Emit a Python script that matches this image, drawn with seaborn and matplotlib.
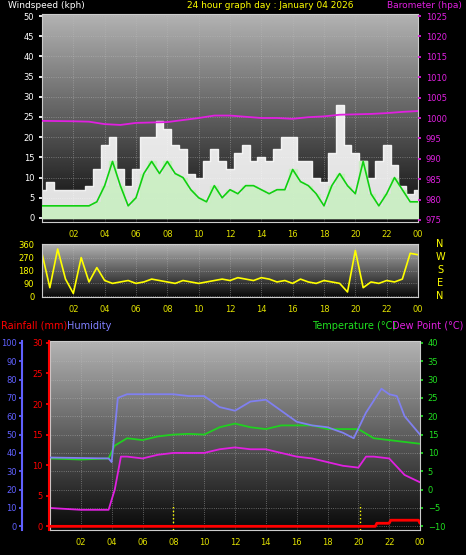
import numpy as np
import pandas as pd
import matplotlib
matplotlib.use('Agg')
import matplotlib.pyplot as plt
import seaborn as sns

sns.set_theme(style='dark')
plt.rcParams['font.family'] = ['DejaVu Sans']

# wind (half-hour readings, kph)
wind_hours = np.arange(0, 24.5, 0.5)
gust = [7, 9, 7, 7, 7, 7, 8, 12, 18, 20, 12, 8, 12, 20, 20, 24, 22, 18, 17, 11,
        10, 14, 17, 14, 12, 16, 18, 14, 15, 14, 17, 20, 20, 14, 14, 10, 9, 16,
        28, 18, 16, 14, 10, 14, 18, 13, 8, 6, 7]
avg = [3, 3, 3, 3, 3, 3, 3, 4, 8, 14, 8, 3, 5, 11, 14, 11, 14, 11, 10, 7,
       5, 4, 8, 5, 7, 6, 8, 8, 7, 6, 7, 7, 12, 9, 8, 6, 3, 8,
       11, 8, 6, 14, 6, 3, 6, 10, 7, 4, 4]
baro_hours = [0, 2, 3, 4, 5, 6, 8, 10, 11, 12, 14, 15, 16, 17, 18, 19, 20, 21, 22, 23, 24]
baro = [999.3, 999.2, 999.1, 998.5, 998.3, 998.8, 999, 1000, 1000.6, 1000.6, 1000,
        1000, 999.8, 1000.2, 1000.4, 1000.8, 1000.9, 1001, 1001.2, 1001.5, 1001.7]
wdir = [300, 60, 330, 120, 20, 270, 100, 200, 110, 90, 100, 110, 90, 100, 120, 110,
        100, 90, 110, 100, 90, 100, 110, 120, 110, 130, 120, 110, 130, 120, 100, 110,
        90, 120, 100, 90, 110, 100, 90, 30, 320, 60, 100, 90, 110, 100, 120, 300, 290]

# temperature panel
t_hours = [0, 2, 3.8, 4.2, 5, 6, 7, 8, 9, 10, 11, 12, 13, 14, 15, 16, 17, 18, 19, 20, 21, 22, 23, 24]
temp = [8.5, 8.2, 8.5, 12, 14, 13.5, 14.5, 15, 15.2, 15, 17, 18, 17, 16.5, 17.5, 17.5,
        17.5, 16.5, 16.5, 16.5, 14, 13.5, 13, 12.5]
d_hours = [0, 2, 3.8, 4.2, 4.6, 5, 6, 7, 8, 10, 11, 12, 13, 14, 15, 16, 17, 18, 19, 20, 20.5, 21, 22, 23, 24]
dew = [-5, -5.5, -5.5, 0, 9, 9, 8.5, 9.5, 10, 10, 11, 11.5, 11, 11, 10, 9, 8.5, 7.5,
       6.5, 6, 9, 9, 8.5, 4, 2]
h_hours = [0, 3.8, 4, 4.4, 5, 6, 8, 9, 10, 11, 12, 13, 14, 15, 16, 17, 18, 19, 19.7,
           20.5, 21.5, 22, 22.5, 23, 24]
hum = [37.5, 37, 35, 70, 72, 72, 72, 71, 71, 65, 63, 68, 69, 63, 57, 55, 54, 51, 48,
       62, 75, 72, 71, 60, 50]
r_hours = [0, 21.1, 21.2, 22, 22.1, 23.9, 24]
rain = [0, 0, 0.5, 0.5, 1, 1, 0.5]

hour_ticks = list(range(2, 25, 2))
hour_labels = ['%02d' % (h % 24) for h in hour_ticks]

fig = plt.figure(figsize=(4.66, 5.55), dpi=100, facecolor='black')
W, H = 466, 555


def ax_at(x0, y0, x1, y1):
    return fig.add_axes([x0 / W, 1 - y1 / H, (x1 - x0) / W, (y1 - y0) / H])


def style(ax, ylim, yticks, color):
    grad = np.linspace(1, 0, 256).reshape(-1, 1)
    ax.imshow(grad, cmap='gray', vmin=-0.05, vmax=1.45, aspect='auto',
              extent=[0, 24, ylim[0], ylim[1]], zorder=0)
    ax.set_xlim(0, 24)
    ax.set_ylim(*ylim)
    ax.set_yticks(yticks)
    ax.set_xticks(hour_ticks)
    ax.set_xticklabels(hour_labels)
    ax.grid(True, color='#bbbbbb', linestyle=':', linewidth=0.6, alpha=0.6)
    ax.tick_params(axis='x', colors='#e0e000', labelsize=6, length=2)
    ax.tick_params(axis='y', colors=color, labelsize=6, length=2)
    for s in ax.spines.values():
        s.set_color('#cccccc')
        s.set_linewidth(0.8)


def side_axis(base, ylim, ticks, color, offset):
    a = base.twinx()
    a.yaxis.tick_left()
    a.set_ylim(*ylim)
    a.set_yticks(ticks)
    a.tick_params(axis='y', colors=color, labelsize=6, length=2, pad=2)
    a.spines['left'].set_position(('outward', offset))
    a.spines['left'].set_color(color)
    a.spines['left'].set_linewidth(1.5)
    for k in ['right', 'top', 'bottom']:
        a.spines[k].set_visible(False)
    a.grid(False)
    a.set_xlim(0, 24)
    return a


# windspeed
ax1 = ax_at(42, 14, 418, 222)
style(ax1, (-1, 50.5), range(0, 51, 5), 'white')
ax1.fill_between(wind_hours, gust, step='mid', color='white', alpha=0.88, zorder=2)
ax1.fill_between(wind_hours, avg, step='mid', color='#c8f0c0', alpha=0.85, zorder=3)
sns.lineplot(x=wind_hours, y=avg, ax=ax1, color='#10d010', linewidth=1.2, zorder=4)
ax1b = ax1.twinx()
sns.lineplot(x=baro_hours, y=baro, ax=ax1b, color='#e020e0', linewidth=1.3)
ax1b.set_ylim(974.5, 1025.5)
ax1b.set_yticks(range(975, 1026, 5))
ax1b.tick_params(axis='y', colors='#e020e0', labelsize=6, length=2)
ax1b.grid(False)
ax1b.set_xlim(0, 24)
for s in ax1b.spines.values():
    s.set_visible(False)
fig.text(8 / W, 1 - 5 / H, 'Windspeed (kph)', color='white', fontsize=6.5, va='center')
fig.text(270 / W, 1 - 5 / H, '24 hour graph day : January 04 2026', color='yellow',
         fontsize=6.5, va='center', ha='center')
fig.text(462 / W, 1 - 5 / H, 'Barometer (hpa)', color='#e020e0', fontsize=6.5,
         va='center', ha='right')

# wind direction
ax2 = ax_at(42, 244, 418, 297)
style(ax2, (-5, 365), range(0, 361, 90), 'yellow')
sns.lineplot(x=wind_hours, y=wdir, ax=ax2, color='yellow', linewidth=1.2)
for lab, yy in zip(['N', 'W', 'S', 'E', 'N'], [244, 257, 270, 283, 296]):
    fig.text(440 / W, 1 - yy / H, lab, color='yellow', fontsize=7, ha='center', va='center')

# temperature / humidity / rain
ax3 = ax_at(50, 341, 420, 530)
style(ax3, (-11, 40.5), range(-10, 41, 5), '#20e020')
sns.lineplot(x=t_hours, y=temp, ax=ax3, color='#20d020', linewidth=1.3)
sns.lineplot(x=d_hours, y=dew, ax=ax3, color='#e020e0', linewidth=1.3)
ax3.axvline(8, ymax=0.14, color='yellow', linestyle=':', linewidth=1)
ax3.axvline(20.1, ymax=0.14, color='yellow', linestyle=':', linewidth=1)

ax_r = side_axis(ax3, (-0.6, 30.3), range(0, 31, 5), 'red', 1)
sns.lineplot(x=r_hours, y=rain, ax=ax_r, color='red', linewidth=2)
ax_h = side_axis(ax3, (-2, 101), range(0, 101, 10), '#6060ff', 20)
sns.lineplot(x=h_hours, y=hum, ax=ax_h, color='#8080f0', linewidth=1.3)
ax3.yaxis.tick_right()
ax3.tick_params(axis='y', colors='#20e020', labelsize=6, length=2)

fig.text(1 / W, 1 - 326 / H, 'Rainfall (mm)', color='red', fontsize=7, va='center')
fig.text(67 / W, 1 - 326 / H, 'Humidity', color='#8080ff', fontsize=7, va='center')
fig.text(312 / W, 1 - 326 / H, 'Temperature (°C)', color='#20e020', fontsize=7, va='center')
fig.text(463 / W, 1 - 326 / H, 'Dew Point (°C)', color='#e020e0', fontsize=7,
         va='center', ha='right')

for a in [ax1, ax1b, ax2, ax3, ax_r, ax_h]:
    a.set_xlabel('')
    a.set_ylabel('')

fig.savefig('out.png', dpi=100, facecolor='black')
